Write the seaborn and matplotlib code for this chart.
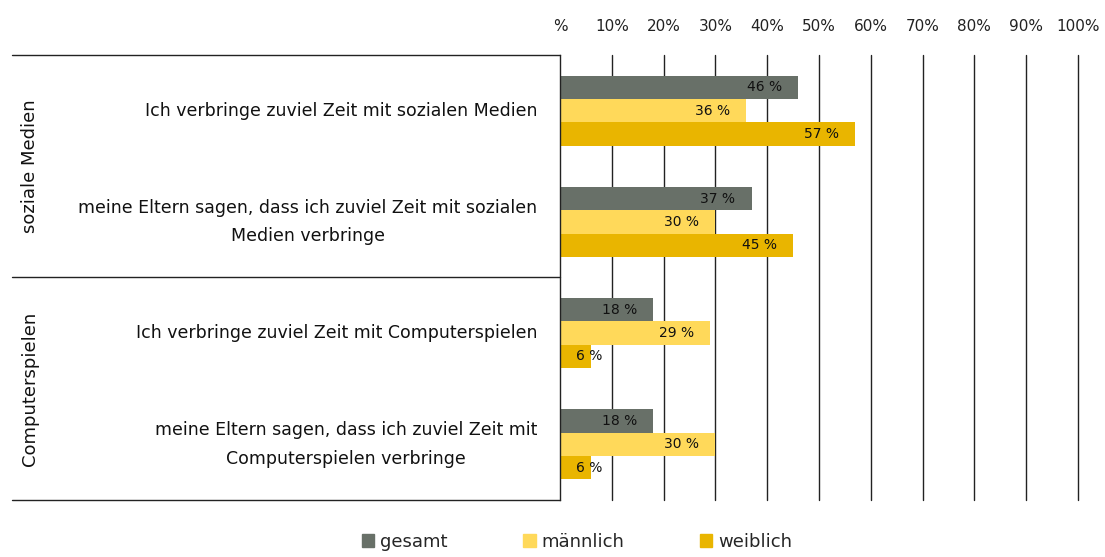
import seaborn as sns
import matplotlib.pyplot as plt
import pandas as pd
from matplotlib.lines import Line2D

# Data
items = [
    "Ich verbringe zuviel Zeit mit sozialen Medien",
    "meine Eltern sagen, dass ich zuviel Zeit mit sozialen\nMedien verbringe",
    "Ich verbringe zuviel Zeit mit Computerspielen",
    "meine Eltern sagen, dass ich zuviel Zeit mit\nComputerspielen verbringe",
]
groups = ["soziale Medien", "Computerspielen"]
series = ["gesamt", "männlich", "weiblich"]
gesamt = [46, 37, 18, 18]
maennlich = [36, 30, 29, 30]
weiblich = [57, 45, 6, 6]
ticks = [0, 10, 20, 30, 40, 50, 60, 70, 80, 90, 100]
tick_labels = ["%", "10%", "20%", "30%", "40%", "50%", "60%", "70%", "80%", "90%", "100%"]

colors = ["#687068", "#ffd95a", "#e9b500"]

rows = []
for i, item in enumerate(items):
    for s, vals in zip(series, [gesamt, maennlich, weiblich]):
        rows.append({"item": item, "serie": s, "wert": vals[i]})
df = pd.DataFrame(rows)

sns.set_style("white")
plt.rcParams['font.family'] = ['DejaVu Sans']

fig = plt.figure(figsize=(11.05, 5.57), dpi=100)
L, R, T, B = 560, 1078, 55, 500
ax = fig.add_axes([L / 1105, 1 - B / 557, (R - L) / 1105, (B - T) / 557])

sns.barplot(data=df, x="wert", y="item", hue="serie", order=items,
            hue_order=series, palette=colors, width=0.63, orient="h",
            linewidth=0, saturation=1, legend=False, ax=ax)

ax.set_xlim(0, 100)
ax.set_ylim(3.5, -0.5)
ax.set_xticks(ticks)
ax.set_xticklabels(tick_labels, fontsize=11, color="#222222")
ax.xaxis.tick_top()
ax.tick_params(axis="x", length=0, pad=15)
ax.set_yticks([])
ax.set_xlabel("")
ax.set_ylabel("")
for sp in ["top", "right", "bottom"]:
    ax.spines[sp].set_visible(False)
ax.spines["left"].set_color("#222222")
ax.spines["left"].set_linewidth(1)
for t in ticks[1:]:
    ax.axvline(t, color="#222222", linewidth=1, zorder=0, clip_on=False)

# value labels
for cont in ax.containers:
    for bar in cont:
        v = bar.get_width()
        yc = bar.get_y() + bar.get_height() / 2
        ax.text(max(v - 6.5, 5.6), yc, f"{v:.0f} %", ha="center", va="center",
                fontsize=10, color="#111111")

# row labels
ytr = ax.get_yaxis_transform()
for i, item in enumerate(items):
    ax.text(-0.044, i, item, transform=ytr, ha="right", va="center",
            multialignment="center", fontsize=12.5, color="#111111",
            linespacing=1.75)

# group labels and separators
for g, yc in zip(groups, [0.5, 2.5]):
    ax.text(-1.023, yc, g, transform=ytr, rotation=90, ha="center",
            va="center", fontsize=13, color="#111111")
for yp in [T, 277, B]:
    fig.add_artist(Line2D([12 / 1105, L / 1105], [1 - yp / 557, 1 - yp / 557],
                          color="#222222", linewidth=1))

handles = [plt.Rectangle((0, 0), 1, 1, color=c) for c in colors]
fig.legend(handles, series, loc="lower center", bbox_to_anchor=(0.522, -0.018),
           ncol=3, frameon=False, fontsize=13, handlelength=0.7,
           handleheight=0.7, handletextpad=0.3, columnspacing=4.2)

plt.savefig("out.png", dpi=100)
